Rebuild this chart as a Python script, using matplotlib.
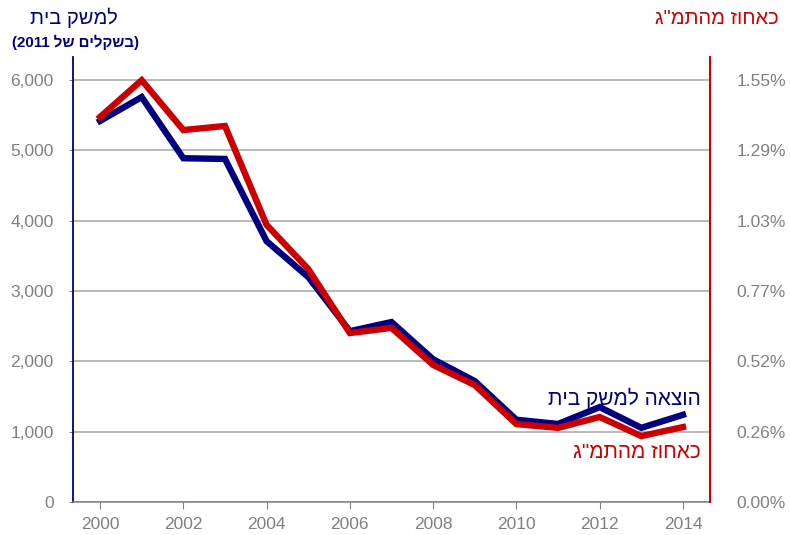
import matplotlib
matplotlib.use("Agg")
import matplotlib.pyplot as plt
from matplotlib.ticker import FuncFormatter, FixedLocator

plt.rcParams['font.family'] = ['Liberation Sans', 'DejaVu Sans']

years = [2000, 2001, 2002, 2003, 2004, 2005, 2006, 2007, 2008, 2009, 2010, 2011, 2012, 2013, 2014]
household = [5420, 5760, 4890, 4880, 3710, 3200, 2430, 2560, 2030, 1720, 1170, 1110, 1350, 1055, 1240]
pct_gdp = [1.413, 1.548, 1.365, 1.380, 1.017, 0.855, 0.620, 0.639, 0.503, 0.429, 0.286, 0.272, 0.312, 0.242, 0.275]

left_ticks = [0, 1000, 2000, 3000, 4000, 5000, 6000]
right_ticks = [0.0, 0.258, 0.516, 0.774, 1.032, 1.290, 1.548]
x_ticks = [2000, 2002, 2004, 2006, 2008, 2010, 2012, 2014]

left_title = "למשק בית"
left_sub = "(2011 " + "של"[::-1] + " " + "בשקלים"[::-1] + ")"
right_title = 'כאחוז מהתמ"ג'
lab_house = "הוצאה למשק בית"
lab_gdp = 'כאחוז מהתמ"ג'

def vis(s):
    return s[::-1]

NAVY = '#000080'
RED = '#CC0000'
GRAY = '#808080'

W, H = 790, 535
fig = plt.figure(figsize=(W / 100, H / 100), dpi=100)
ax = fig.add_axes([73 / W, 1 - 502 / H, (710 - 73) / W, (502 - 57) / H])
ax2 = ax.twinx()

ymax = 6330
ax.set_ylim(0, ymax)
ax2.set_ylim(0, ymax * 1.548 / 6000)
ax.set_xlim(1999.35, 2014.65)

ax.set_yticks(left_ticks)
ax.yaxis.set_major_formatter(FuncFormatter(lambda v, p: f"{int(v):,}"))
ax2.yaxis.set_major_locator(FixedLocator(right_ticks))
ax2.yaxis.set_major_formatter(FuncFormatter(lambda v, p: f"{v:.2f}%"))
ax.set_xticks(x_ticks)
ax.set_xticklabels([str(y) for y in x_ticks])

ax.grid(axis='y', color='#A6A6A6', linewidth=1.1)
ax.set_axisbelow(True)

for s in ['top', 'right']:
    ax.spines[s].set_visible(False)
for s in ['top', 'bottom']:
    ax2.spines[s].set_visible(False)
ax2.spines['left'].set_visible(False)
ax.spines['left'].set_color(NAVY)
ax.spines['left'].set_linewidth(1.3)
ax.spines['bottom'].set_color(GRAY)
ax.spines['bottom'].set_linewidth(1.1)
ax2.spines['right'].set_color(RED)
ax2.spines['right'].set_linewidth(1.5)

ax.tick_params(axis='y', length=3, color=GRAY, labelsize=12.5, labelcolor=GRAY, pad=11)
ax.tick_params(axis='x', length=5, color=GRAY, labelsize=12.5, labelcolor=GRAY, pad=6, direction='out')
ax2.tick_params(axis='y', length=0, labelsize=12.5, labelcolor=GRAY, pad=19)

ax.plot(years, household, color=NAVY, linewidth=4.6, solid_joinstyle='miter', zorder=3)
ax2.plot(years, pct_gdp, color=RED, linewidth=4.6, solid_joinstyle='miter', zorder=4)

def ftext(x, y, s, **kw):
    fig.text(x / W, 1 - y / H, s, **kw)

ftext(74, 18, vis(left_title), color=NAVY, fontsize=14.5, ha='center', va='center')
ftext(75, 42, left_sub, color=NAVY, fontsize=10.8, fontweight='bold', ha='center', va='center')
ftext(779, 18, vis(right_title), color=RED, fontsize=14.5, ha='right', va='center')
ftext(701, 398, vis(lab_house), color=NAVY, fontsize=15, ha='right', va='center')
ftext(701, 452, vis(lab_gdp), color=RED, fontsize=15, ha='right', va='center')

fig.savefig("out.png", dpi=100)
